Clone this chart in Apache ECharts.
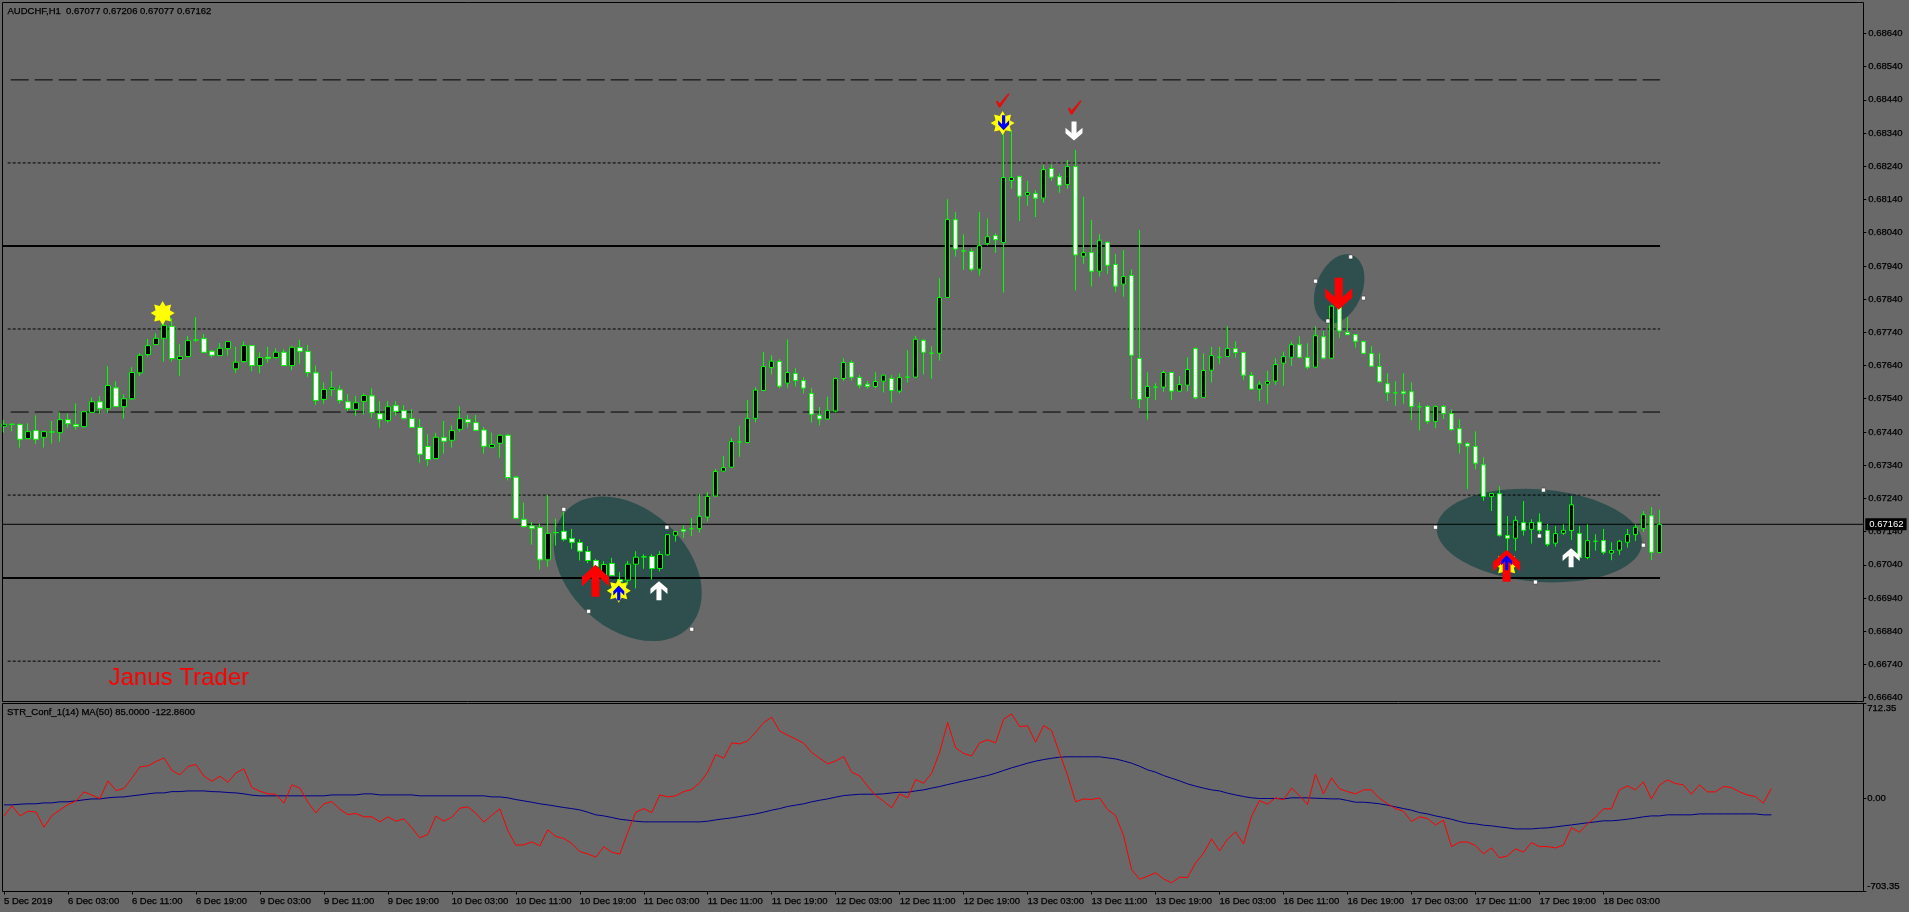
<!DOCTYPE html>
<html><head><meta charset="utf-8">
<style>html,body{margin:0;padding:0;background:#696969;overflow:hidden}#c{width:1909px;height:912px}</style>
<script src="https://cdn.jsdelivr.net/npm/echarts@6/dist/echarts.min.js"></script>
</head><body><div id="c"></div>
<script>
// Prices are in 0.00001 units
const opens=[67457,67463,67462,67420,67444,67424,67440,67438,67477,67462,
67456,67499,67531,67510,67573,67516,67540,67618,67673,67703,
67722,67758,67658,67667,67717,67721,67683,67670,67691,67630,
67652,67700,67640,67665,67664,67680,67640,67694,67682,67618,
67538,67568,67567,67531,67508,67532,67549,67495,67474,67519,
67504,67480,67453,67396,67360,67423,67415,67448,67477,67468,
67446,67394,67406,67430,67304,67177,67157,67152,67055,67137,
67141,67119,67107,67080,67053,67007,67044,66996,66994,67042,
67064,67065,67029,67070,67129,67146,67149,67149,67184,67247,
67322,67334,67410,67408,67481,67565,67634,67652,67587,67616,
67595,67556,67490,67479,67503,67601,67649,67604,67584,67577,
67593,67601,67563,67605,67605,67716,67677,67677,67845,68079,
67985,67983,67930,68007,68031,68010,68197,68209,68153,68158,
68144,68233,68209,68185,68239,67969,67980,67924,68011,67944,
67885,67911,67661,67544,67575,67575,67619,67563,67581,67691,
67544,67626,67665,67667,67691,67679,67610,67569,67584,67593,
67647,67665,67703,67664,67635,67727,67662,67817,67740,67733,
67712,67676,67637,67585,67558,67561,67561,67516,67517,67472,
67517,67495,67450,67405,67396,67341,67246,67254,67128,67120,
67167,67147,67169,67143,67105,67135,67143,67134,67062,67111,
67113,67075,67084,67108,67131,67149,67188,67077];
const closes=[67463,67463,67418,67441,67418,67441,67440,67477,67465,67457,
67501,67531,67511,67580,67517,67540,67619,67671,67700,67722,
67761,67661,67667,67715,67717,67680,67671,67692,67712,67650,
67700,67640,67664,67661,67680,67640,67695,67683,67619,67535,
67568,67573,67535,67511,67528,67550,67499,67478,67516,67502,
67481,67454,67373,67357,67424,67412,67444,67480,67469,67445,
67397,67402,67430,67303,67180,67155,67150,67055,67135,67137,
67117,67108,67081,67053,67035,67041,67008,66989,67042,67063,
67064,67029,67071,67131,67140,67141,67149,67186,67246,67321,
67333,67411,67410,67481,67566,67637,67653,67578,67619,67595,
67572,67493,67479,67505,67601,67649,67605,67581,67577,67592,
67611,67565,67604,67605,67719,67680,67677,67845,68080,67991,
67985,67930,68001,68028,68019,68206,68206,68150,68161,68144,
68230,68207,68183,68239,67973,67980,67924,68017,67942,67879,
67908,67671,67538,67577,67575,67619,67563,67583,67628,67543,
67625,67670,67665,67691,67679,67611,67569,67584,67592,67643,
67667,67703,67665,67635,67730,67662,67819,67744,67733,67713,
67677,67638,67591,67558,67558,67556,67517,67516,67472,67517,
67496,67447,67406,67397,67346,67246,67255,67129,67120,67174,
67144,67167,67144,67102,67134,67144,67221,67062,67113,67111,
67078,67083,67111,67131,67153,67191,67078,67162];
const highs=[67476,67466,67466,67466,67490,67444,67473,67499,67496,67526,
67501,67544,67548,67638,67593,67553,67635,67677,67720,67737,
67782,67783,67705,67729,67786,67735,67687,67708,67712,67696,
67713,67700,67680,67696,67692,67689,67699,67717,67702,67640,
67589,67623,67580,67554,67548,67556,67571,67533,67533,67533,
67521,67509,67479,67433,67437,67473,67460,67517,67491,67491,
67455,67438,67433,67434,67307,67227,67169,67164,67250,67179,
67208,67148,67117,67096,67058,67051,67061,67018,67052,67081,
67072,67072,67081,67132,67142,67159,67181,67253,67259,67329,
67367,67422,67459,67536,67575,67681,67671,67659,67718,67632,
67605,67572,67515,67546,67604,67662,67656,67612,67594,67620,
67612,67611,67617,67686,67729,67720,67698,67903,68141,68102,
68035,67993,68102,68083,68038,68349,68349,68212,68196,68168,
68244,68245,68219,68259,68289,68148,68078,68036,68013,67976,
67988,67930,68048,67620,67587,67625,67621,67609,67665,67695,
67677,67696,67696,67758,67713,67680,67620,67594,67624,67662,
67682,67712,67728,67707,67758,67745,67822,67827,67786,67735,
67715,67699,67677,67617,67593,67617,67589,67529,67521,67519,
67521,67508,67478,67410,67442,67364,67255,67276,67187,67187,
67232,67177,67195,67163,67157,67162,67247,67157,67162,67132,
67148,67108,67115,67148,67162,67202,67214,67206];
const lows=[67438,67442,67393,67418,67404,67393,67405,67411,67453,67447,
67453,67497,67495,67497,67515,67480,67536,67609,67667,67701,
67652,67652,67609,67667,67711,67678,67664,67670,67670,67617,
67648,67623,67617,67648,67661,67639,67626,67645,67606,67521,
67525,67548,67525,67503,67489,67492,67483,67453,67468,67489,
67478,67454,67347,67338,67359,67375,67393,67441,67453,67444,
67375,67391,67363,67294,67178,67153,67101,67026,67034,67098,
67111,67088,67053,67045,67005,67005,67006,66965,66980,66969,
67028,66996,67020,67068,67110,67121,67127,67137,67171,67246,
67321,67331,67365,67408,67469,67563,67613,67571,67573,67577,
67556,67468,67460,67477,67499,67594,67595,67571,67570,67572,
67559,67528,67556,67589,67602,67613,67600,67655,67845,67968,
67928,67923,67911,68001,67979,67860,68172,68075,68121,68087,
68130,68196,68160,68172,67866,67946,67878,67908,67916,67862,
67847,67539,67512,67477,67536,67561,67536,67560,67562,67539,
67543,67589,67645,67666,67664,67597,67567,67533,67525,67582,
67579,67639,67662,67629,67633,67659,67660,67724,67732,67694,
67675,67637,67589,67533,67519,67525,67476,67444,67464,67452,
67479,67444,67375,67268,67328,67233,67202,67125,67054,67082,
67128,67104,67130,67095,67095,67130,67115,67056,67057,67083,
67071,67054,67070,67092,67112,67139,67054,67077];

const strValues=[-134,-58,-134,-99,-104,-219,-131,-89,-48,-23,
47,22,-3,130,57,72,152,235,243,275,
303,208,175,238,253,165,127,165,120,190,
220,80,52,32,29,-38,100,75,-31,-111,
-43,-26,-84,-124,-116,-141,-141,-179,-141,-174,
-156,-224,-299,-274,-136,-174,-144,-76,-66,-114,
-181,-129,-81,-244,-355,-352,-330,-360,-239,-289,
-304,-342,-402,-420,-445,-367,-407,-422,-257,-106,
-79,-109,24,9,17,49,65,115,195,328,
300,416,408,431,496,569,609,504,474,444,
413,343,300,258,280,313,195,167,90,19,
-23,-74,32,2,140,112,188,346,569,378,
336,318,416,439,416,594,634,539,544,421,
546,509,338,170,-28,-6,-11,2,-86,-131,
-282,-538,-611,-588,-563,-608,-638,-596,-598,-488,
-415,-307,-397,-309,-254,-345,-136,-18,-46,2,
-13,75,19,-48,180,32,152,70,49,32,
62,62,-1,-43,-79,-99,-176,-141,-154,-202,
-166,-365,-332,-330,-357,-420,-375,-450,-435,-382,
-407,-335,-365,-365,-375,-355,-222,-257,-194,-144,
-81,-81,62,92,62,122,-6,97,137,110,
100,29,100,47,47,87,80,47,24,12,
-38,72];
const maValues=[-51,-51,-46,-43,-43,-36,-36,-28,-28,-21,
-13,-6,-6,2,7,9,17,24,32,39,
39,49,49,54,54,54,49,47,42,39,
32,22,17,17,17,17,17,17,17,17,
17,24,24,24,24,32,32,24,24,24,
24,24,17,17,17,17,17,17,17,17,
17,9,9,2,-11,-21,-31,-43,-51,-61,
-71,-79,-89,-106,-126,-134,-146,-159,-166,-174,
-179,-179,-179,-179,-179,-179,-179,-179,-174,-164,
-156,-149,-139,-129,-119,-106,-91,-79,-63,-53,
-43,-28,-16,-6,7,19,24,29,29,29,
32,39,44,44,54,62,75,87,102,115,
130,142,157,170,188,208,228,245,263,278,
290,300,308,311,311,311,311,311,303,295,
280,263,240,213,195,170,150,130,107,90,
75,62,54,37,24,12,2,-3,-3,-3,
-6,2,2,2,-1,-3,-6,-6,-18,-31,
-31,-36,-43,-53,-66,-79,-91,-109,-119,-134,
-146,-159,-176,-189,-194,-204,-209,-217,-224,-232,
-232,-232,-227,-224,-217,-209,-202,-194,-186,-179,
-171,-171,-166,-159,-151,-141,-134,-134,-126,-126,
-126,-126,-119,-119,-119,-119,-119,-119,-119,-119,
-126,-126];

const xLabels=['5 Dec 2019','6 Dec 03:00','6 Dec 11:00','6 Dec 19:00','9 Dec 03:00','9 Dec 11:00','9 Dec 19:00',
'10 Dec 03:00','10 Dec 11:00','10 Dec 19:00','11 Dec 03:00','11 Dec 11:00','11 Dec 19:00','12 Dec 03:00','12 Dec 11:00','12 Dec 19:00',
'13 Dec 03:00','13 Dec 11:00','13 Dec 19:00','16 Dec 03:00','16 Dec 11:00','16 Dec 19:00','17 Dec 03:00','17 Dec 11:00','17 Dec 19:00','18 Dec 03:00'];
const priceTicks=[0.6664,0.6674,0.6684,0.6694,0.6704,0.6714,0.6724,0.6734,0.6744,0.6754,0.6764,0.6774,0.6784,0.6794,0.6804,0.6814,0.6824,0.6834,0.6844,0.6854,0.6864];
const indicatorTicks=[-703.35,0,712.35];
const longDashLevels=[68500,67500];
const dotLevels=[68250,67750,67250,66750];
const heavyLevels=[68000,67000];
const lastPrice=67162;

// annotations: [bar position, price]
const stars=[[19.84,67798],[76.875,66962],[124.875,68370],[187.9,67040]];
const redUp=[[73.96,66992],[187.9,67037]];
const redDown=[[166.9,67856]];
const whiteUp=[[81.9,66962],[195.96,67061]];
const whiteDown=[[133.8,68346]];
const blueUp=[[76.875,66955],[187.9,67046]];
const blueDown=[[125,68371]];
const checks=[[124.9,68438],[133.9,68417]];
const ellipseCenters=[[78,67028],[166.96,67871],[192,67128]];
const handles=[[70,67207],[82.9,67153],[73.1,66900],[86,66846],[168.4,67967],[164,67894],[170,67843],[165.55,67774],[192.5,67265],[179,67153],[205,67099],[191.5,66988],[192,67127]];

const BAR_SLOTS=233, FONT='"Liberation Sans"', FS=9.5;
const ellipseShapes=[{rx:84.6,ry:59.5,deg:42.9},{rx:36,ry:23,deg:-68},{rx:103,ry:46.2,deg:4.75}];
const P=v=>v/1e5;
const categories=Array.from({length:BAR_SLOTS},(_,i)=>i%8===0&&xLabels[i/8]?xLabels[i/8]:String(i));
const candles=opens.map((o,i)=>[P(o),P(closes[i]),P(lows[i]),P(highs[i])]);
const pts=a=>a.map(d=>[d[0],P(d[1])]);
const arrowUp='path://M41,0 L82,37 L82,65 L53,38 L53,97 L29,97 L29,38 L0,65 L0,37 Z';
const arrowDown='path://M29,0 L53,0 L53,59 L82,32 L82,60 L41,97 L0,60 L0,32 L29,59 Z';
const check='path://M0,58 L14,50 L26,72 L88,0 L100,2 L32,100 L20,100 Z';
const burst=(()=>{let s='path://';const n=8;for(let i=0;i<n*2;i++){const r=i%2?32:50,a=Math.PI*i/n-Math.PI/2;s+=(i?'L':'M')+(50+r*Math.cos(a)).toFixed(1)+','+(50+r*Math.sin(a)).toFixed(1)+' ';}return s+'Z';})();

const markerSeries=(name,data,symbol,size,color,z)=>({name,type:'scatter',xAxisIndex:1,yAxisIndex:0,data:pts(data),symbol,symbolSize:size,itemStyle:{color,opacity:1},z,silent:true,clip:false});
const levelSeries=(v,from,style,z)=>({type:'line',xAxisIndex:1,yAxisIndex:0,data:[[from,P(v)],[207.09,P(v)]],showSymbol:false,silent:true,lineStyle:style,z:z||3,clip:false});

const series=[
 {type:'custom',xAxisIndex:1,yAxisIndex:0,z:1,silent:true,clip:false,data:pts(ellipseCenters),
  renderItem:(p,api)=>{const c=api.coord([api.value(0),api.value(1)]),s=ellipseShapes[p.dataIndex];
   return {type:'ellipse',x:c[0],y:c[1],rotation:-s.deg*Math.PI/180,shape:{cx:0,cy:0,rx:s.rx,ry:s.ry},style:{fill:'#2f4f4f'}};}},
 ...longDashLevels.map(v=>levelSeries(v,0.84,{color:'#000',width:1,type:[18,6]})),
 ...dotLevels.map(v=>levelSeries(v,0.46,{color:'#000',width:1,type:[3,2]})),
 ...heavyLevels.map(v=>levelSeries(v,-0.16,{color:'#000',width:2})),
 {type:'line',xAxisIndex:1,yAxisIndex:0,data:[[-0.16,P(lastPrice)],[232.5,P(lastPrice)]],showSymbol:false,silent:true,z:3,clip:false,lineStyle:{color:'#000',width:1},
  endLabel:{show:true,formatter:()=>P(lastPrice).toFixed(5),color:'#fff',backgroundColor:'#000',fontFamily:FONT,fontSize:FS,padding:[1,3,1,4],distance:2}},
 {type:'candlestick',xAxisIndex:0,yAxisIndex:0,data:candles,barWidth:5,z:5,silent:true,
  itemStyle:{color:'#000',color0:'#fff',borderColor:'#00ff00',borderColor0:'#00ff00',borderColorDoji:'#00ff00',borderWidth:1}},
 {type:'scatter',xAxisIndex:1,yAxisIndex:0,data:pts(handles),symbol:'rect',symbolSize:4,z:6,silent:true,itemStyle:{color:'#fff',opacity:1,borderColor:'#2a2a2a',borderWidth:0.5}},
 markerSeries('stars',stars,burst,[24,24],'#ffff00',7),
 markerSeries('redUp',redUp,arrowUp,[27,32],'#ff0000',8),
 markerSeries('redDown',redDown,arrowDown,[27,32],'#ff0000',8),
 markerSeries('whiteUp',whiteUp,arrowUp,[17,19],'#ffffff',8),
 markerSeries('whiteDown',whiteDown,arrowDown,[17,19],'#ffffff',8),
 markerSeries('blueUp',blueUp,arrowUp,[11,15],'#0000ff',9),
 markerSeries('blueDown',blueDown,arrowDown,[11,15],'#0000ff',9),
 markerSeries('checks',checks,check,[14,14],'#e01010',8),
 {type:'line',xAxisIndex:2,yAxisIndex:1,data:maValues,showSymbol:false,silent:true,lineStyle:{color:'#00008b',width:1},z:3},
 {type:'line',xAxisIndex:2,yAxisIndex:1,data:strValues,showSymbol:false,silent:true,lineStyle:{color:'#ff0000',width:1},z:4}
];
const chart=echarts.init(document.getElementById('c'),null,{renderer:'canvas'});
const txt={color:'#000',fontFamily:FONT,fontSize:FS,fontWeight:'normal',textBorderColor:'#000',textBorderWidth:0.25};
chart.setOption({
 animation:false,backgroundColor:'#696969',
 title:[
  {text:'AUDCHF,H1  0.67077 0.67206 0.67077 0.67162',left:7.5,top:6,padding:0,textStyle:txt},
  {text:'STR_Conf_1(14) MA(50) 85.0000 -122.8600',left:7,top:707,padding:0,textStyle:txt},
  {text:'Janus Trader',left:108.5,top:666,padding:0,textStyle:{color:'#ff0000',fontFamily:FONT,fontSize:24,fontWeight:'normal'}}
 ],
 grid:[{left:-0.7,width:1864,top:2.5,height:698.5,containLabel:false},{left:-0.7,width:1864,top:703.5,height:188,containLabel:false}],
 graphic:[
  {type:'rect',z:20,silent:true,shape:{x:2.5,y:2.5,width:1861,height:699},style:{fill:null,stroke:'#000',lineWidth:1}},
  {type:'rect',z:20,silent:true,shape:{x:2.5,y:703.5,width:1861,height:188},style:{fill:null,stroke:'#000',lineWidth:1}}
 ],
 xAxis:[
  {type:'category',gridIndex:0,data:categories,axisLine:{show:false,onZero:false},axisTick:{show:false},axisLabel:{show:false},splitLine:{show:false}},
  {type:'value',gridIndex:0,min:-0.5,max:232.5,show:false,axisLine:{onZero:false}},
  {type:'category',gridIndex:1,data:categories,position:'bottom',axisLine:{show:false,onZero:false},splitLine:{show:false},
   axisTick:{show:true,alignWithLabel:true,length:3,interval:(i)=>i%8===0&&i<=200,lineStyle:{color:'#000'}},
   axisLabel:{show:true,interval:(i)=>i%8===0&&i<=200,align:'left',margin:5,hideOverlap:false,...txt}}
 ],
 yAxis:[
  {type:'value',gridIndex:0,position:'right',min:0.6663,max:0.68733,scale:true,splitLine:{show:false},axisLine:{show:false,onZero:false},
   axisTick:{show:true,length:3,customValues:priceTicks,lineStyle:{color:'#000'}},
   axisLabel:{show:true,customValues:priceTicks,margin:5,showMinLabel:true,showMaxLabel:true,formatter:v=>v.toFixed(5),...txt}},
  {type:'value',gridIndex:1,position:'right',min:-703.35,max:712.35,splitLine:{show:false},axisLine:{show:false,onZero:false},
   axisTick:{show:true,length:3,customValues:indicatorTicks,lineStyle:{color:'#000'}},
   axisLabel:{show:true,customValues:indicatorTicks,margin:4,verticalAlignMinLabel:'bottom',verticalAlignMaxLabel:'top',formatter:v=>v.toFixed(2),...txt}}
 ],
 series
});
</script></body></html>
